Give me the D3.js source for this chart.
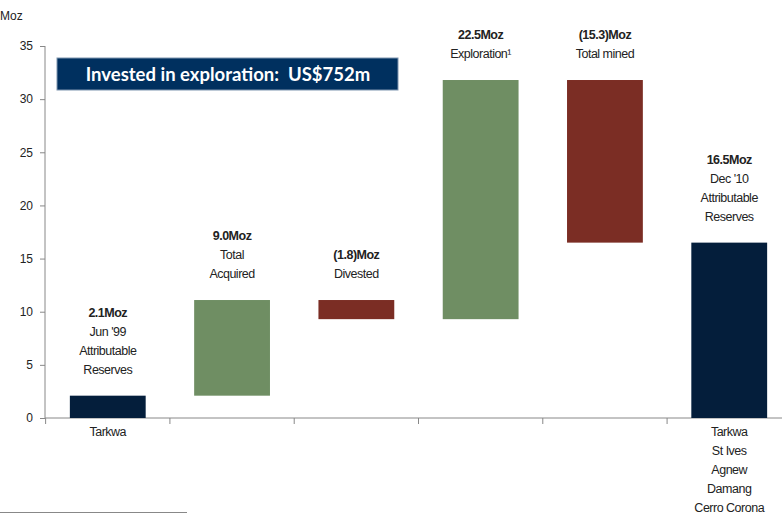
<!DOCTYPE html>
<html>
<head>
<meta charset="utf-8">
<script src="https://cdn.jsdelivr.net/npm/d3@7"></script>
<style>
    body { margin: 0; background: #fff; }
    text { font-family: "Liberation Sans", Arial, sans-serif; fill: #222; }
</style>
</head>
<body>
<script>
    // waterfall steps (Moz)
    var steps = ["start", "acquired", "divested", "exploration", "mined", "end"];
    var starts = [0, 2.1, 11.1, 9.3, 31.8, 0];
    var ends = [2.1, 11.1, 9.3, 31.8, 16.5, 16.5];
    var kinds = ["total", "up", "down", "up", "down", "total"];
    var labels = [
        ["2.1Moz", "Jun '99", "Attributable", "Reserves"],
        ["9.0Moz", "Total", "Acquired"],
        ["(1.8)Moz", "Divested"],
        ["22.5Moz", "Exploration\u00b9"],
        ["(15.3)Moz", "Total mined"],
        ["16.5Moz", "Dec '10", "Attributable", "Reserves"]
    ];
    var mines = [["Tarkwa"], [], [], [], [], ["Tarkwa", "St Ives", "Agnew", "Damang", "Cerro Corona"]];
    var yTicks = [0, 5, 10, 15, 20, 25, 30, 35];

    var colors = { total: "#041e3b", up: "#6f8e63", down: "#7b2d24" };

    var svg = d3.select("body").append("svg")
        .attr("width", 782)
        .attr("height", 515);

    var x = d3.scaleBand().domain(steps).range([45, 792]).paddingInner(0.39).paddingOuter(0.2);
    var y = d3.scaleLinear().domain([0, 35]).range([418, 46]);

    // y axis
    var yAxis = svg.append("g")
        .attr("transform", "translate(45,0)")
        .call(d3.axisLeft(y).tickValues(yTicks).tickSize(5).tickSizeOuter(0));
    yAxis.select(".domain").attr("stroke", "#888").attr("d", "M0," + y(35) + "V" + y(0));
    yAxis.selectAll(".tick line").attr("stroke", "#888");
    yAxis.selectAll(".tick text").attr("x", -12).style("font-size", "12px").style("font-family", "'Liberation Sans', Arial");

    svg.append("text").attr("x", 0).attr("y", 20).style("font-size", "12px").text("Moz");

    // x axis with band-boundary ticks
    svg.append("line").attr("x1", 45).attr("x2", 782).attr("y1", y(0)).attr("y2", y(0)).attr("stroke", "#888");
    svg.selectAll(".xtick").data(steps).enter().append("line")
        .attr("x1", d => x(d) - x.step() * x.paddingInner() / 2)
        .attr("x2", d => x(d) - x.step() * x.paddingInner() / 2)
        .attr("y1", y(0)).attr("y2", y(0) + 6)
        .attr("stroke", "#888");

    // bars
    svg.selectAll(".bar").data(steps).enter().append("rect")
        .attr("x", d => x(d))
        .attr("width", x.bandwidth())
        .attr("y", (d, i) => y(Math.max(starts[i], ends[i])))
        .attr("height", (d, i) => Math.abs(y(starts[i]) - y(ends[i])))
        .attr("fill", (d, i) => colors[kinds[i]]);

    // value labels above bars, mine names below axis
    steps.forEach(function (s, i) {
        var top = y(Math.max(starts[i], ends[i]));
        var lines = labels[i];
        var t = svg.append("text")
            .attr("text-anchor", "middle")
            .style("font-size", "12.5px")
            .style("letter-spacing", "-0.5px");
        lines.forEach(function (l, j) {
            t.append("tspan")
                .attr("x", x(s) + x.bandwidth() / 2)
                .attr("y", top - 22 - (lines.length - 1 - j) * 19)
                .style("font-weight", j === 0 ? "bold" : "normal")
                .text(l);
        });
        var m = svg.append("text")
            .attr("text-anchor", "middle")
            .style("font-size", "12.5px")
            .style("letter-spacing", "-0.5px");
        mines[i].forEach(function (l, j) {
            m.append("tspan")
                .attr("x", x(s) + x.bandwidth() / 2)
                .attr("y", y(0) + 18 + j * 19)
                .text(l);
        });
    });

    // banner
    svg.append("rect").attr("x", 57).attr("y", 58).attr("width", 341).attr("height", 32)
        .attr("fill", "#00305f").attr("stroke", "#7f95b0").attr("stroke-width", 1);
    svg.append("text").attr("x", 228).attr("y", 81).attr("text-anchor", "middle")
        .style("font-family", "Lato, 'Open Sans', sans-serif").style("font-weight", "bold")
        .style("font-size", "18.5px").style("fill", "#fff")
        .style("white-space", "pre")
        .text("Invested in exploration:  US$752m");

    // footnote rule
    svg.append("line").attr("x1", 0).attr("x2", 187).attr("y1", 512.5).attr("y2", 512.5)
        .attr("stroke", "#888");
</script>
</body>
</html>
